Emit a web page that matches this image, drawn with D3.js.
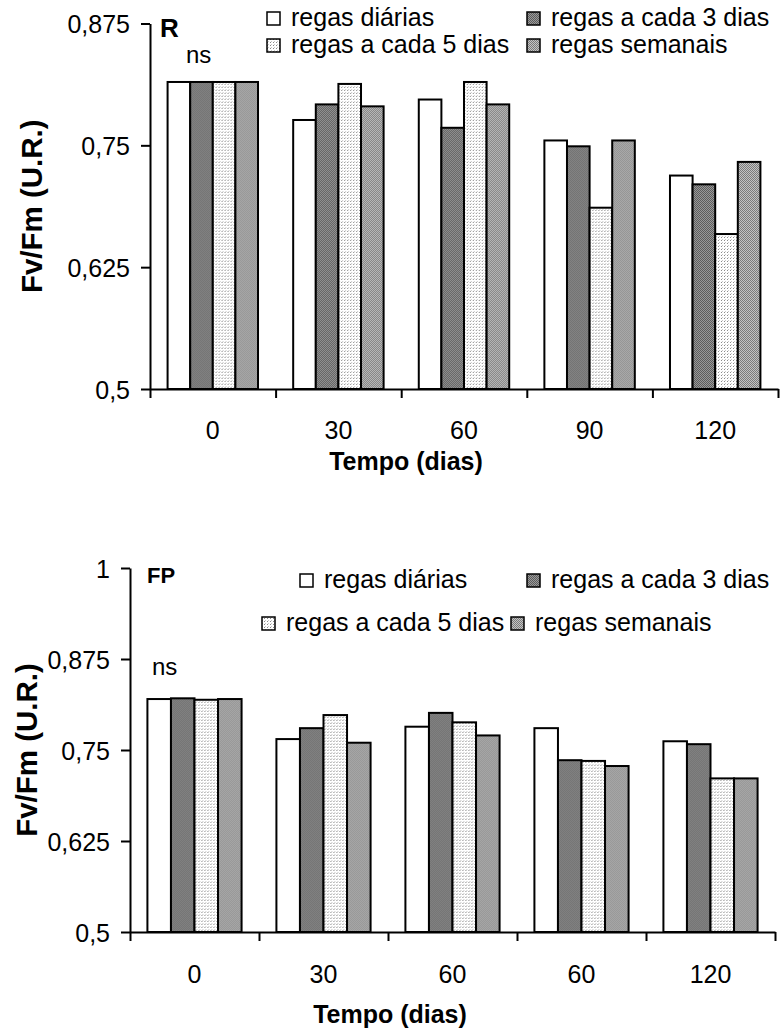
<!DOCTYPE html>
<html><head><meta charset="utf-8">
<script src="https://cdn.jsdelivr.net/npm/d3@7"></script>
<style>
body{margin:0;background:#fff}
svg{display:block}
text{font-family:"Liberation Sans",Arial,Helvetica,sans-serif;fill:#000}
</style>
</head><body>
<svg id="c" width="780" height="1029"></svg>
<script>
// ---------- data ----------
const seriesNames = ["regas diárias","regas a cada 3 dias","regas a cada 5 dias","regas semanais"];

const categoriesR = ["0","30","60","90","120"];
const diariasR   = [0.815,0.776,0.797,0.755,0.719];
const cada3R     = [0.815,0.792,0.768,0.749,0.710];
const cada5R     = [0.815,0.813,0.815,0.686,0.659];
const semanaisR  = [0.815,0.790,0.792,0.755,0.733];
const yTicksR    = [0.5,0.625,0.75,0.875];

const categoriesFP = ["0","30","60","60","120"];
const diariasFP  = [0.820,0.765,0.782,0.780,0.762];
const cada3FP    = [0.821,0.780,0.801,0.736,0.758];
const cada5FP    = [0.819,0.798,0.788,0.735,0.711];
const semanaisFP = [0.820,0.760,0.770,0.728,0.711];
const yTicksFP   = [0.5,0.625,0.75,0.875,1];

const xTitle = "Tempo (dias)";
const yTitle = "Fv/Fm (U.R.)";

// ---------- patterns ----------
const svg = d3.select("#c");
const defs = svg.append("defs");
function pat(id, size, bg, dots){
  const p = defs.append("pattern").attr("id",id).attr("patternUnits","userSpaceOnUse")
    .attr("width",size).attr("height",size);
  p.append("rect").attr("width",size).attr("height",size).attr("fill",bg);
  dots.forEach(d=>p.append("rect").attr("x",d[0]).attr("y",d[1]).attr("width",1).attr("height",1).attr("fill",d[2]));
}
pat("p0",2,"#ffffff",[]);
pat("p3",2,"#9a9a9a",[[0,0,"#5c5c5c"],[1,1,"#5c5c5c"]]);
pat("p5",3,"#ffffff",[[0,0,"#8a8a8a"],[1,2,"#c8c8c8"]]);
pat("pS",2,"#c4c4c4",[[0,0,"#7a7a7a"],[1,1,"#7a7a7a"]]);
const fills = ["url(#p0)","url(#p3)","url(#p5)","url(#pS)"];

const fmt = d => String(d).replace(".", ",");
const FONT = "Liberation Sans, Arial, sans-serif";

function drawChart(cfg){
  const g = svg.append("g");
  const y = d3.scaleLinear().domain(cfg.yDomain).range(cfg.yRange);
  const idx = d3.range(cfg.categories.length);
  const x0 = d3.scaleBand().domain(idx).range(cfg.xRange).paddingInner(cfg.pin).paddingOuter(cfg.pout);
  const x1 = d3.scaleBand().domain(d3.range(seriesNames.length)).range([0, x0.bandwidth()]);
  const xb = d3.scaleLinear().domain([0, idx.length]).range(cfg.xRange);

  // bars
  const groups = g.selectAll("g.grp").data(idx).join("g")
    .attr("transform", i => `translate(${x0(i)},0)`);
  groups.selectAll("rect").data(i => cfg.series.map((s,k)=>({k, v:s[i]}))).join("rect")
    .attr("x", d => x1(d.k))
    .attr("y", d => y(d.v))
    .attr("width", x1.bandwidth())
    .attr("height", d => y(cfg.yDomain[0]) - y(d.v))
    .attr("fill", d => fills[d.k])
    .attr("stroke", "#000").attr("stroke-width", 2);

  // x axis with boundary ticks
  const xa = g.append("g").attr("transform", `translate(0,${cfg.yRange[0]})`)
    .call(d3.axisBottom(xb).tickValues(d3.range(idx.length+1)).tickSize(9).tickSizeOuter(0).tickFormat(""));
  xa.select(".domain").attr("stroke-width",2);
  xa.selectAll(".tick line").attr("stroke-width",2);

  // x labels
  const xl = g.append("g").attr("transform", `translate(0,${cfg.xLabelY})`)
    .call(d3.axisBottom(x0).tickSize(0).tickPadding(0).tickFormat(i => cfg.categories[i]));
  xl.select(".domain").remove();
  xl.selectAll("text").attr("font-size",25).attr("font-family",FONT).attr("dy",0);

  // y axis
  const ya = g.append("g").attr("transform", `translate(${cfg.xRange[0]},0)`)
    .call(d3.axisLeft(y).tickValues(cfg.yTicks).tickSize(9).tickSizeOuter(0).tickPadding(11).tickFormat(fmt));
  ya.select(".domain").attr("stroke-width",2);
  ya.selectAll(".tick line").attr("stroke-width",2);
  ya.selectAll("text").attr("font-size",25).attr("font-family",FONT).attr("dy","0.36em");

  // titles
  g.append("text").attr("x", cfg.xTitleX).attr("y", cfg.xTitleY)
    .attr("text-anchor","middle").attr("font-size",25).attr("font-weight","bold").text(xTitle);
  g.append("text").attr("transform", `translate(${cfg.yTitleX},${(cfg.yRange[0]+cfg.yRange[1])/2}) rotate(-90)`)
    .attr("text-anchor","middle").attr("font-size",29.5).attr("font-weight","bold").text(yTitle);

  // panel letter & ns
  g.append("text").attr("x", cfg.panel.x).attr("y", cfg.panel.y).attr("font-size", cfg.panel.size)
    .attr("font-weight","bold").text(cfg.panel.text);
  g.append("text").attr("x", cfg.ns.x).attr("y", cfg.ns.y).attr("font-size",24).text("ns");

  // legend
  cfg.legend.forEach((p,k) => {
    g.append("rect").attr("x", p[0]).attr("y", p[1]-14).attr("width",13).attr("height",13)
      .attr("fill", fills[k]).attr("stroke","#000").attr("stroke-width",1.5);
    g.append("text").attr("x", p[0]+24).attr("y", p[1]).attr("font-size",25).text(seriesNames[k]);
  });
}

drawChart({
  categories: categoriesR,
  series: [diariasR, cada3R, cada5R, semanaisR],
  yDomain: [0.5, 0.875], yRange: [389, 23.5], yTicks: yTicksR,
  xRange: [150, 778], pin: 0.28, pout: 0.14,
  xLabelY: 439, xTitleX: 406, xTitleY: 470, yTitleX: 42,
  panel: {text:"R", x:160, y:37, size:26},
  ns: {x:186, y:63},
  legend: [[267,26],[527,26],[267,53],[527,53]]
});

drawChart({
  categories: categoriesFP,
  series: [diariasFP, cada3FP, cada5FP, semanaisFP],
  yDomain: [0.5, 1], yRange: [932, 568], yTicks: yTicksFP,
  xRange: [130, 775], pin: 0.27, pout: 0.135,
  xLabelY: 983, xTitleX: 390, xTitleY: 1023, yTitleX: 37,
  panel: {text:"FP", x:147, y:583, size:22},
  ns: {x:152, y:675},
  legend: [[300,588],[527,588],[262,631],[511,631]]
});
</script>
</body></html>
